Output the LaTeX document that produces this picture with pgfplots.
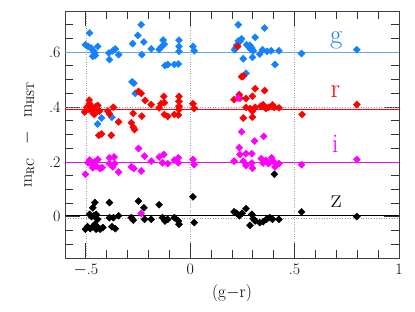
\documentclass[border=0pt]{standalone}
\usepackage{pgfplots}
\pgfplotsset{compat=1.18}
\definecolor{gblue}{RGB}{20,130,255}
\definecolor{gline}{RGB}{100,165,235}
\definecolor{rred}{RGB}{255,0,0}
\definecolor{imag}{RGB}{255,0,255}
\begin{document}
\begin{tikzpicture}
\useasboundingbox (-65bp,-54bp) rectangle (350bp,258bp);
\begin{axis}[
  at={(0,0)}, anchor=south west,
  scale only axis, width=334bp, height=247bp,
  xmin=-0.6, xmax=1.0, ymin=-0.15, ymax=0.75,
  xtick={-0.5,0,0.5,1}, xticklabels={$-$.5,0,.5,1},
  ytick={0,0.2,0.4,0.6}, yticklabels={0,.2,.4,.6},
  minor xtick={-0.6,-0.4,-0.3,-0.2,-0.1,0.1,0.2,0.3,0.4,0.6,0.7,0.8,0.9},
  minor ytick={-0.1,-0.05,0.05,0.1,0.15,0.25,0.3,0.35,0.45,0.5,0.55,0.65,0.7},
  tick align=inside, ticks=both,
  major tick length=15bp, minor tick length=8bp,
  tick style={black!80, line width=0.8bp},
  xtick pos=both, ytick pos=both,
  axis line style={black!75, line width=0.9bp},
  tick label style={font=\fontsize{16}{18}\selectfont},
  xticklabel style={yshift=-2bp},
  yticklabel style={xshift=-1bp},
  xlabel={$(\mathrm{g}{-}\mathrm{r})$},
  ylabel={$\mathrm{m}_{\mathrm{RC}}\ \ -\ \ \mathrm{m}_{\mathrm{HST}}$},
  label style={font=\fontsize{16}{18}\selectfont},
  xlabel style={at={(axis description cs:0.5,-0.142)}, anchor=center},
  ylabel style={at={(axis description cs:-0.111,0.5)}, anchor=center},
  xmajorgrids=true,
  major x grid style={gray!70, dotted, line width=0.6bp},
  clip=true,
]
% horizontal reference lines
\addplot[gray!80, dotted, line width=0.6bp, forget plot] coordinates {(-0.6,0.6) (1,0.6)};
\addplot[gray!80, dotted, line width=0.6bp, forget plot] coordinates {(-0.6,0.4) (1,0.4)};
\addplot[gray!80, dotted, line width=0.6bp, forget plot] coordinates {(-0.6,0.2) (1,0.2)};
\addplot[gray!80, dotted, line width=0.6bp, forget plot] coordinates {(-0.6,-0.004) (1,-0.004)};
\addplot[gline, line width=0.8bp] coordinates {(-0.6,0.598) (1,0.598)};
\addplot[rred, line width=0.8bp] coordinates {(-0.6,0.393) (1,0.393)};
\addplot[imag, line width=0.8bp] coordinates {(-0.6,0.2) (1,0.2)};
\addplot[black, line width=0.8bp] coordinates {(-0.6,0.004) (1,0.004)};
% g band
\addplot[only marks, mark=square*, mark size=2.5bp, mark options={rotate=45, fill=gblue, draw=gblue}] table {
x y
-0.482 0.670
-0.502 0.627
-0.489 0.621
-0.475 0.615
-0.463 0.605
-0.457 0.597
-0.467 0.585
-0.455 0.588
-0.443 0.621
-0.390 0.597
-0.387 0.573
-0.371 0.605
-0.359 0.612
-0.343 0.591
-0.276 0.631
-0.251 0.661
-0.235 0.700
-0.222 0.637
-0.232 0.591
-0.187 0.612
-0.149 0.610
-0.140 0.618
-0.130 0.644
-0.124 0.629
-0.121 0.551
-0.108 0.555
-0.076 0.555
-0.057 0.557
-0.054 0.644
-0.054 0.621
-0.054 0.603
0.013 0.621
0.019 0.605
0.230 0.700
0.356 0.688
0.238 0.639
0.246 0.649
0.230 0.641
0.222 0.625
0.216 0.614
0.213 0.609
0.270 0.627
0.283 0.617
0.290 0.610
0.286 0.625
0.311 0.654
0.295 0.615
0.302 0.605
0.333 0.593
0.346 0.609
0.368 0.603
0.387 0.605
0.425 0.605
0.254 0.576
0.298 0.581
0.406 0.555
0.533 0.595
0.267 0.523
0.798 0.609
-0.279 0.492
-0.270 0.487
-0.263 0.450
-0.425 0.360
-0.444 0.338
-0.375 0.363
};
% r band
\addplot[only marks, mark=square*, mark size=2.5bp, mark options={rotate=45, fill=rred, draw=rred}] table {
x y
-0.495 0.399
-0.506 0.382
-0.482 0.412
-0.484 0.425
-0.490 0.392
-0.470 0.400
-0.460 0.395
-0.442 0.390
-0.475 0.391
-0.467 0.379
-0.459 0.373
-0.451 0.403
-0.443 0.406
-0.435 0.385
-0.395 0.385
-0.387 0.375
-0.368 0.399
-0.343 0.346
-0.438 0.297
-0.425 0.302
-0.378 0.297
-0.282 0.343
-0.273 0.327
-0.267 0.318
-0.273 0.377
-0.248 0.457
-0.235 0.450
-0.232 0.367
-0.216 0.424
-0.187 0.409
-0.149 0.397
-0.140 0.412
-0.127 0.439
-0.124 0.416
-0.124 0.373
-0.108 0.366
-0.076 0.373
-0.057 0.371
-0.054 0.439
-0.054 0.421
-0.054 0.403
-0.054 0.391
0.013 0.412
0.019 0.395
0.227 0.621
0.246 0.511
0.254 0.513
0.210 0.427
0.235 0.445
0.238 0.433
0.267 0.431
0.298 0.439
0.311 0.467
0.356 0.460
0.267 0.399
0.286 0.395
0.298 0.385
0.311 0.399
0.337 0.403
0.349 0.408
0.362 0.395
0.375 0.399
0.394 0.408
0.403 0.399
0.425 0.397
0.254 0.360
0.298 0.363
0.536 0.373
0.798 0.409
};
% i band
\addplot[only marks, mark=square*, mark size=2.5bp, mark options={rotate=45, fill=imag, draw=imag}] table {
x y
-0.502 0.155
-0.490 0.197
-0.482 0.207
-0.473 0.191
-0.467 0.179
-0.457 0.200
-0.451 0.185
-0.443 0.209
-0.432 0.176
-0.422 0.179
-0.387 0.215
-0.365 0.218
-0.387 0.194
-0.371 0.182
-0.362 0.194
-0.343 0.163
-0.282 0.182
-0.270 0.176
-0.248 0.249
-0.219 0.221
-0.235 0.167
-0.187 0.203
-0.149 0.218
-0.127 0.227
-0.133 0.197
-0.108 0.194
-0.076 0.207
-0.057 0.215
-0.057 0.197
-0.235 0.013
0.013 0.209
0.019 0.190
0.235 0.252
0.238 0.227
0.267 0.230
0.295 0.230
0.308 0.276
0.210 0.203
0.254 0.203
0.267 0.187
0.295 0.196
0.298 0.177
0.340 0.212
0.349 0.196
0.362 0.206
0.375 0.194
0.390 0.215
0.397 0.203
0.406 0.182
0.425 0.194
0.533 0.190
0.798 0.209
0.230 0.433
0.246 0.310
0.352 0.293
};
% z band
\addplot[only marks, mark=square*, mark size=2.5bp, mark options={rotate=45, fill=black, draw=black}] table {
x y
-0.457 0.052
-0.467 0.033
-0.482 0.009
-0.473 0.001
-0.462 0.004
-0.451 0.009
-0.444 -0.009
-0.502 -0.045
-0.492 -0.036
-0.479 -0.043
-0.467 -0.036
-0.451 -0.045
-0.441 -0.039
-0.432 -0.045
-0.419 -0.039
-0.457 -0.027
-0.387 0.052
-0.387 -0.003
-0.368 -0.003
-0.375 -0.036
-0.359 -0.043
-0.343 0.004
-0.282 -0.003
-0.273 -0.012
-0.248 0.057
-0.222 0.033
-0.219 -0.009
-0.187 -0.009
-0.149 0.044
-0.133 -0.003
-0.121 -0.015
-0.108 -0.009
-0.076 -0.003
-0.057 -0.015
-0.054 -0.027
0.013 0.073
0.019 -0.021
0.403 0.155
0.210 0.018
0.222 0.013
0.235 0.004
0.248 0.013
0.267 0.030
0.295 0.009
0.302 -0.007
0.286 -0.031
0.311 -0.015
0.333 -0.021
0.349 -0.018
0.365 -0.009
0.381 -0.003
0.394 -0.009
0.425 -0.009
0.533 0.018
0.798 0.001
};
\node[gblue, font=\fontsize{27}{30}\selectfont] at (axis cs:0.70,0.645) {g};
\node[rred, font=\fontsize{27}{30}\selectfont] at (axis cs:0.695,0.457) {r};
\node[imag, font=\fontsize{27}{30}\selectfont] at (axis cs:0.695,0.267) {i};
\node[black, font=\fontsize{27}{30}\selectfont] at (axis cs:0.70,0.055) {z};
\end{axis}
\end{tikzpicture}
\end{document}
